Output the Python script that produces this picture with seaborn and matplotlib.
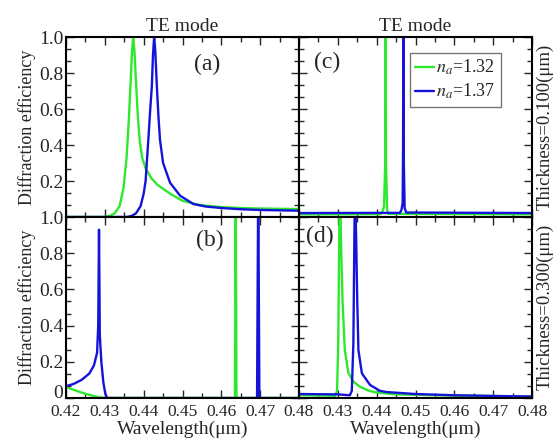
import matplotlib
matplotlib.use("Agg")
import matplotlib.pyplot as plt
from matplotlib.ticker import AutoMinorLocator
import seaborn as sns
import pandas as pd

# ---------------- data ----------------
# Panel (a): thickness 0.100 um, left column
a_wl_132 = [0.4200, 0.4295, 0.4312, 0.4325, 0.4338, 0.4348, 0.4356, 0.4362, 0.4366, 0.4370,
            0.4373, 0.4376, 0.4380, 0.4385, 0.4390, 0.4396, 0.4405, 0.4420, 0.4436, 0.4470,
            0.4500, 0.4546, 0.4600, 0.4650, 0.4700, 0.4800]
a_de_132 = [0.000, 0.000, 0.005, 0.020, 0.060, 0.160, 0.330, 0.550, 0.730, 0.920,
            1.000, 0.930, 0.760, 0.560, 0.420, 0.330, 0.270, 0.215, 0.178, 0.127,
            0.090, 0.066, 0.055, 0.050, 0.047, 0.044]
a_wl_137 = [0.4200, 0.4355, 0.4368, 0.4380, 0.4392, 0.4400, 0.4405, 0.4412, 0.4417, 0.4421,
            0.4424, 0.4427, 0.4430, 0.4434, 0.4438, 0.4442, 0.4450, 0.4468, 0.4494, 0.4528,
            0.4560, 0.4600, 0.4650, 0.4700, 0.4800]
a_de_137 = [0.000, 0.000, 0.005, 0.020, 0.060, 0.130, 0.200, 0.430, 0.600, 0.725,
            0.900, 1.000, 0.920, 0.725, 0.560, 0.430, 0.300, 0.190, 0.118, 0.072,
            0.058, 0.050, 0.043, 0.039, 0.035]

# Panel (b): thickness 0.300 um, left column
b_wl_132 = [0.4200, 0.4220, 0.4240, 0.4260, 0.4280, 0.4300, 0.4635, 0.4637, 0.4639, 0.4800]
b_de_132 = [0.060, 0.045, 0.030, 0.017, 0.007, 0.000, 0.000, 1.200, 0.000, 0.000]
b_wl_137 = [0.4200, 0.4220, 0.4240, 0.4260, 0.4272, 0.4280, 0.4283, 0.4285, 0.4287, 0.4291,
            0.4296, 0.4301, 0.4306, 0.4692, 0.4695, 0.4698, 0.4800]
b_de_137 = [0.065, 0.078, 0.100, 0.135, 0.180, 0.250, 0.400, 0.930, 0.350, 0.200,
            0.090, 0.025, 0.000, 0.000, 1.200, 0.000, 0.000]

# Panel (c): thickness 0.100 um, right column
c_wl_132 = [0.4200, 0.4410, 0.4415, 0.4419, 0.4422, 0.4423, 0.4424, 0.4427, 0.4430, 0.4800]
c_de_132 = [0.015, 0.016, 0.030, 0.060, 0.300, 1.200, 0.300, 0.040, 0.018, 0.015]
c_wl_137 = [0.4200, 0.4460, 0.4464, 0.4467, 0.4468, 0.4469, 0.4470, 0.4472, 0.4476, 0.4800]
c_de_137 = [0.022, 0.023, 0.040, 0.080, 0.400, 1.200, 0.300, 0.050, 0.025, 0.022]

# Panel (d): thickness 0.300 um, right column
d_wl_132 = [0.4200, 0.4280, 0.4293, 0.4298, 0.4301, 0.4305, 0.4309, 0.4312, 0.4318, 0.4327,
            0.4340, 0.4357, 0.4380, 0.4400, 0.4450, 0.4600, 0.4800]
d_de_132 = [0.015, 0.013, 0.012, 0.040, 0.300, 1.200, 0.800, 0.540, 0.265, 0.140,
            0.090, 0.062, 0.040, 0.030, 0.020, 0.013, 0.008]
d_wl_137 = [0.4200, 0.4300, 0.4331, 0.4336, 0.4340, 0.4344, 0.4347, 0.4350, 0.4353, 0.4362,
            0.4383, 0.4408, 0.4425, 0.4500, 0.4600, 0.4800]
d_de_137 = [0.022, 0.020, 0.015, 0.040, 0.300, 1.200, 0.900, 0.540, 0.265, 0.136,
            0.072, 0.040, 0.033, 0.022, 0.015, 0.008]

series_labels = ["$n_a$=1.32", "$n_a$=1.37"]
panel_labels = ["(a)", "(b)", "(c)", "(d)"]
column_titles = ["TE mode", "TE mode"]
row_labels = ["Thickness=0.100(\u03bcm)", "Thickness=0.300(\u03bcm)"]
x_ticks = [0.42, 0.43, 0.44, 0.45, 0.46, 0.47, 0.48]
x_ticklabels = ["0.42", "0.43", "0.44", "0.45", "0.46", "0.47", "0.48"]
y_ticks = [0.0, 0.2, 0.4, 0.6, 0.8, 1.0]
y_ticklabels = ["0", "0.2", "0.4", "0.6", "0.8", "1.0"]

# ---------------- style ----------------
sns.set_theme(style="ticks")
plt.rcParams["font.family"] = ["Liberation Serif", "DejaVu Serif"]
plt.rcParams["mathtext.fontset"] = "stix"
plt.rcParams["axes.linewidth"] = 1.5
plt.rcParams["axes.edgecolor"] = "black"

GREEN = "#2ee82e"
BLUE = "#1414d8"

fig = plt.figure(figsize=(5.55, 4.41), dpi=100)
W, H = 555.0, 441.0
xl, xm, xr = 66, 299, 532
yt, ym, yb = 37, 217, 398

def pos(x0, x1, y0, y1):
    return [x0 / W, 1 - y1 / H, (x1 - x0) / W, (y1 - y0) / H]

ax_a = fig.add_axes(pos(xl, xm, yt, ym))
ax_c = fig.add_axes(pos(xm, xr, yt, ym))
ax_b = fig.add_axes(pos(xl, xm, ym, yb))
ax_d = fig.add_axes(pos(xm, xr, ym, yb))

panels = [
    (ax_a, (a_wl_132, a_de_132), (a_wl_137, a_de_137)),
    (ax_b, (b_wl_132, b_de_132), (b_wl_137, b_de_137)),
    (ax_c, (c_wl_132, c_de_132), (c_wl_137, c_de_137)),
    (ax_d, (d_wl_132, d_de_132), (d_wl_137, d_de_137)),
]

for ax, s1, s2 in panels:
    for (wl, de), col, lab in [(s1, GREEN, series_labels[0]), (s2, BLUE, series_labels[1])]:
        df = pd.DataFrame({"wl": wl, "de": de})
        sns.lineplot(data=df, x="wl", y="de", ax=ax, color=col, lw=1.7,
                     estimator=None, errorbar=None, label=lab, legend=False)
    ax.set_xlim(0.42, 0.48)
    ax.set_ylim(0, 1.0)
    ax.set_xticks(x_ticks)
    ax.set_yticks(y_ticks)
    ax.xaxis.set_minor_locator(AutoMinorLocator(2))
    ax.yaxis.set_minor_locator(AutoMinorLocator(3))
    ax.tick_params(which="both", direction="in", top=True, right=True,
                   bottom=True, left=True, width=1.0)
    ax.tick_params(axis="x", labelsize=12.5, pad=4)
    ax.tick_params(axis="y", labelsize=14, pad=2)
    ax.tick_params(which="major", length=6)
    ax.tick_params(which="minor", length=3.5)
    ax.set_xlabel("")
    ax.set_ylabel("")
    for sp in ax.spines.values():
        sp.set_linewidth(1.5)
        sp.set_color("black")

# tick labels
ax_a.set_xticklabels([])
ax_c.set_xticklabels([])
ax_c.set_yticklabels([])
ax_d.set_yticklabels([])
ax_a.set_yticklabels([""] + y_ticklabels[1:])
ax_b.set_yticklabels(y_ticklabels)
ax_b.set_xticklabels(x_ticklabels)
ax_d.set_xticklabels([""] + x_ticklabels[1:])
# lift the bottom "0" of (b) slightly, as in the reference
ax_b.get_yticklabels()[0].set_verticalalignment("baseline")

# axis labels
ax_a.set_ylabel("Diffraction efficiency", fontsize=13, labelpad=2)
ax_b.set_ylabel("Diffraction efficiency", fontsize=13, labelpad=2)
ax_b.set_xlabel("Wavelength(\u03bcm)", fontsize=14, labelpad=1)
ax_d.set_xlabel("Wavelength(\u03bcm)", fontsize=14, labelpad=1)
ax_a.set_title(column_titles[0], fontsize=14, pad=4)
ax_c.set_title(column_titles[1], fontsize=14, pad=4)

# panel labels
for ax, lab, (px, py) in zip([ax_a, ax_b, ax_c, ax_d], panel_labels,
                             [(0.605, 0.845), (0.618, 0.873), (0.119, 0.856), (0.09, 0.891)]):
    ax.text(px, py, lab, transform=ax.transAxes, fontsize=17, ha="center", va="center")

# legend in (c)
leg = ax_c.legend(loc="upper right", bbox_to_anchor=(0.866, 0.913), borderaxespad=0,
                  fontsize=13, frameon=True, fancybox=False, handlelength=1.05,
                  handletextpad=0.1, borderpad=0.3, labelspacing=0.25)
leg.get_frame().set_edgecolor("#555555")
leg.get_frame().set_linewidth(1.0)

# right-hand row labels
fig.text(545 / W, 1 - 127 / H, row_labels[0], rotation=90, ha="center", va="center", fontsize=13.5)
fig.text(545 / W, 1 - 307 / H, row_labels[1], rotation=90, ha="center", va="center", fontsize=13.5)

fig.savefig("out.png", dpi=100)
